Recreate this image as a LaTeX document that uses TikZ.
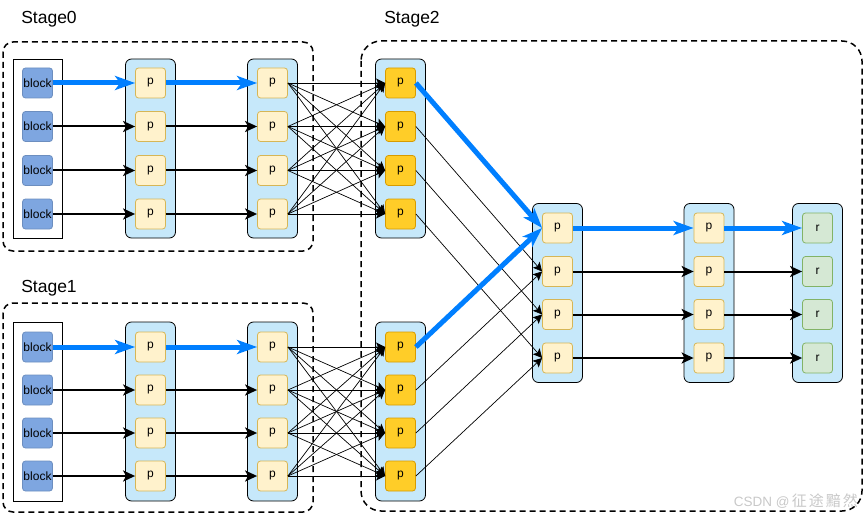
\documentclass[tikz,border=0pt]{standalone}
\usepackage{fontspec}
\setmainfont{Liberation Sans}
\newfontfamily\cjk{Noto Sans CJK SC}
\usetikzlibrary{arrows.meta}
\definecolor{colfill}{RGB}{198,232,250}
\definecolor{pfill}{HTML}{FFF2CC}
\definecolor{pborder}{HTML}{D6B656}
\definecolor{qfill}{HTML}{FFCD28}
\definecolor{qborder}{HTML}{D79B00}
\definecolor{rfill}{HTML}{D5E8D4}
\definecolor{rborder}{HTML}{82B366}
\definecolor{bfill}{HTML}{7EA6E0}
\definecolor{bborder}{HTML}{6C8EBF}
\definecolor{arrowblue}{HTML}{007FFF}
\definecolor{wmgray}{RGB}{200,200,200}
\begin{document}
\begin{tikzpicture}[x=1pt,y=-1pt,
  col/.style={draw=black, fill=colfill, rounded corners=6pt, line width=0.8pt, minimum width=50pt, minimum height=179pt, inner sep=0pt},
  blkrect/.style={draw=black, line width=0.8pt, minimum width=49pt, minimum height=179pt, inner sep=0pt},
  pbox/.style={draw=pborder, fill=pfill, rounded corners=3pt, minimum size=30pt, inner sep=0pt, line width=0.8pt, font=\fontsize{12}{14}\selectfont},
  qbox/.style={pbox, draw=qborder, fill=qfill},
  rbox/.style={pbox, draw=rborder, fill=rfill},
  blkbox/.style={pbox, draw=bborder, fill=bfill},
  stagebox/.style={draw=black, line width=1.5pt, dash pattern=on 6pt off 4pt},
  stagelabel/.style={font=\fontsize{17.5}{20}\selectfont, inner sep=0pt},
  bluearrow/.style={draw=arrowblue, line width=5pt, -{Stealth[length=20pt,width=14pt,inset=5pt]}},
  blackarrow/.style={draw=black, line width=2pt, -{Stealth[length=12pt,width=11pt,inset=3pt]}},
  mesh/.style={draw=black, line width=0.7pt, -{Stealth[length=9pt,width=9pt,inset=2pt]}}
]
\useasboundingbox (0,0) rectangle (865,516);

% stage boxes
\draw[stagebox, rounded corners=10pt] (3,42) rectangle (313,251);
\draw[stagebox, rounded corners=10pt] (3,303) rectangle (313,512);
\draw[stagebox, rounded corners=20pt] (361,41) rectangle (862,511);

\node[stagelabel] (L0) at (49,19) {Stage0};
\node[stagelabel] (L1) at (49,288) {Stage1};
\node[stagelabel] (L2) at (412,19) {Stage2};

% columns
\node[blkrect] (B0) at (37.5,148.5) {};
\node[col] (A1) at (150.5,148.5) {};
\node[col] (A2) at (272.5,148.5) {};
\node[blkrect] (B1) at (37.5,411.5) {};
\node[col] (C1) at (150.5,411.5) {};
\node[col] (C2) at (272.5,411.5) {};
\node[col] (U) at (400.5,148.5) {};
\node[col] (D) at (400.5,411.5) {};
\node[col] (M) at (557.5,293) {};
\node[col] (N) at (709,293) {};
\node[col] (R) at (817.5,293) {};

% nodes
\foreach \i/\y in {1/83,2/126.5,3/170.5,4/214}{
  \node[blkbox] (b0\i) at (37.5,\y) {block};
  \node[pbox] (a1\i) at (150.5,\y) {p};
  \node[pbox] (a2\i) at (272.5,\y) {p};
  \node[qbox] (u\i) at (400.5,\y) {p};
}
\foreach \i/\y in {1/347,2/390,3/433,4/476}{
  \node[blkbox] (b1\i) at (37.5,\y) {block};
  \node[pbox] (c1\i) at (150.5,\y) {p};
  \node[pbox] (c2\i) at (272.5,\y) {p};
  \node[qbox] (d\i) at (400.5,\y) {p};
}
\foreach \i/\y in {1/228,2/271.5,3/314.5,4/358}{
  \node[pbox] (m\i) at (557.5,\y) {p};
  \node[pbox] (n\i) at (709,\y) {p};
  \node[rbox] (r\i) at (817.5,\y) {r};
}

% straight arrows
\draw[bluearrow] (b01.east) -- (a11.west);
\draw[bluearrow] (a11.east) -- (a21.west);
\draw[bluearrow] (b11.east) -- (c11.west);
\draw[bluearrow] (c11.east) -- (c21.west);
\draw[bluearrow] (m1.east) -- (n1.west);
\draw[bluearrow] (n1.east) -- (r1.west);
\foreach \i in {2,3,4}{
  \draw[blackarrow] (b0\i.east) -- (a1\i.west);
  \draw[blackarrow] (a1\i.east) -- (a2\i.west);
  \draw[blackarrow] (b1\i.east) -- (c1\i.west);
  \draw[blackarrow] (c1\i.east) -- (c2\i.west);
  \draw[blackarrow] (m\i.east) -- (n\i.west);
  \draw[blackarrow] (n\i.east) -- (r\i.west);
}

% meshes
\foreach \i in {1,2,3,4}{
  \foreach \j in {1,2,3,4}{
    \draw[mesh] (a2\i.east) -- (u\j.west);
    \draw[mesh] (c2\i.east) -- (d\j.west);
  }
}

% merge
\foreach \i in {2,3,4}{
  \draw[mesh] (u\i.east) -- (m\i.west);
  \draw[mesh] (d\i.east) -- (m\i.west);
}
\draw[bluearrow] (u1.east) -- (m1.west);
\draw[bluearrow] (d1.east) -- (m1.west);

% watermark
\node[text=wmgray, inner sep=0pt, anchor=east] (wm) at (858,501)
  {\fontsize{13.5}{15}\selectfont CSDN @\,{\cjk\fontsize{15}{17}\selectfont 征\hspace{2pt}途\hspace{2pt}黯\hspace{2pt}然}};
\end{tikzpicture}
\end{document}
